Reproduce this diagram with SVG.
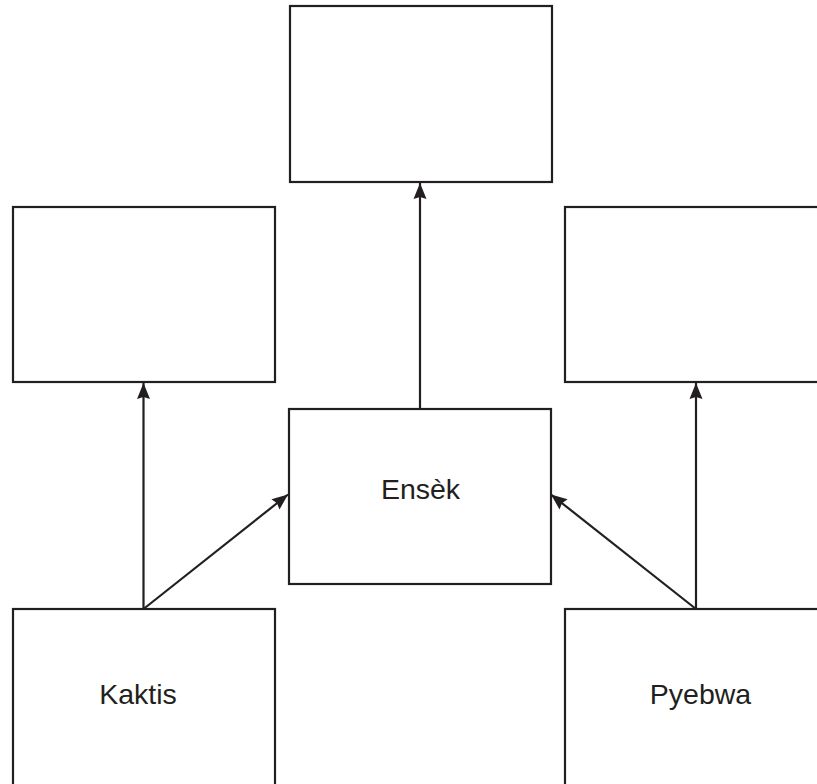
<svg xmlns="http://www.w3.org/2000/svg" width="817" height="784" viewBox="0 0 817 784">
<style>
.box{fill:#fff;stroke:#231f20;stroke-width:2.2}
.lbl{font-family:"Liberation Sans",Arial,sans-serif;font-size:28.5px;fill:#231f20;text-anchor:middle}
.con{stroke:#231f20;stroke-width:2.2;fill:none;marker-end:url(#ah)}
</style>
<defs>
<marker id="ah" markerWidth="18" markerHeight="14" refX="16" refY="7" orient="auto" markerUnits="userSpaceOnUse" overflow="visible">
<path d="M0,0.5 L16,7 L0,13.5 L2,7 Z" fill="#231f20"/>
</marker>
</defs>
<rect width="817" height="784" fill="#fff"/>
<g id="top"><rect class="box" x="290" y="6" width="262" height="176"/></g>
<g id="midleft"><rect class="box" x="13" y="207" width="262" height="175"/></g>
<g id="midright"><rect class="box" x="565" y="207" width="262" height="175"/></g>
<g id="ensek"><rect class="box" x="289" y="409" width="262" height="175"/><text class="lbl" x="420.5" y="499">Ensèk</text></g>
<g id="kaktis"><rect class="box" x="13" y="609" width="262" height="185"/><text class="lbl" x="138" y="704">Kaktis</text></g>
<g id="pyebwa"><rect class="box" x="565" y="609" width="262" height="185"/><text class="lbl" x="700.5" y="704">Pyebwa</text></g>
<g id="connectors">
<line class="con" x1="420" y1="409" x2="420" y2="183"/>
<line class="con" x1="143.5" y1="609" x2="143.5" y2="383"/>
<line class="con" x1="143.5" y1="609" x2="288" y2="494.5"/>
<line class="con" x1="696" y1="609" x2="696" y2="383"/>
<line class="con" x1="696" y1="609" x2="551" y2="494.5"/>
</g>
</svg>
